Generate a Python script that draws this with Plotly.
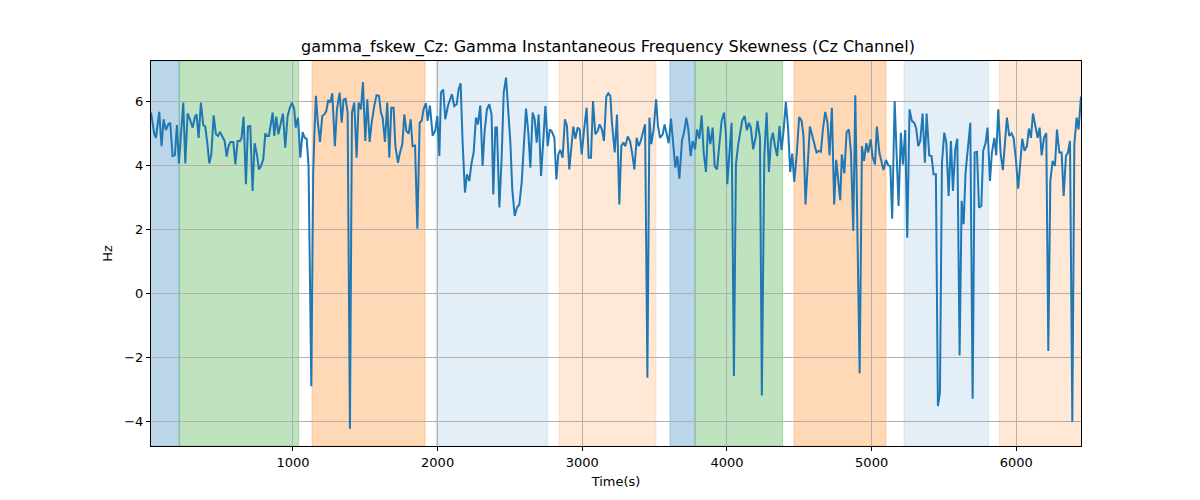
import plotly.graph_objects as go

# Gamma instantaneous frequency skewness, Cz channel
time_s = [19, 42, 53, 76, 92, 106, 122, 138, 152, 168, 184, 198, 212, 226, 242, 256, 272, 288, 307, 323,
          334, 348, 364, 380, 394, 408, 422, 436, 452, 468, 482, 496, 509, 528, 542, 555, 569, 588, 602, 618,
          634, 645, 659, 675, 689, 705, 721, 735, 751, 765, 779, 795, 809,
          820, 834, 860, 871, 885, 899, 913, 931, 947, 963, 979, 993, 1009, 1019, 1035, 1051, 1067, 1081, 1095, 1108,
          1127, 1140, 1148, 1159, 1171, 1187, 1203, 1217, 1231, 1244, 1258, 1272, 1290, 1304, 1323, 1337, 1350, 1364,
          1378, 1394, 1408, 1424, 1440, 1454, 1470, 1484, 1500, 1514, 1530, 1544, 1562, 1578, 1595, 1608,
          1620, 1636, 1652, 1666, 1680, 1696, 1708, 1726, 1740, 1756, 1770, 1784, 1800, 1814, 1827, 1844, 1860, 1876,
          1890, 1903, 1920, 1931, 1947, 1966, 1984, 1998, 2012, 2023, 2039, 2053, 2072, 2085, 2099, 2115, 2132, 2145,
          2159, 2173, 2189, 2203, 2219, 2235, 2249, 2265, 2279, 2295, 2311, 2325, 2341, 2357, 2373, 2385, 2399,
          2410, 2427, 2443, 2457, 2473, 2489, 2503, 2516, 2533, 2549, 2565, 2581, 2595, 2611, 2627, 2641, 2657, 2671,
          2685, 2698, 2715, 2731, 2745, 2761, 2775, 2788, 2807, 2821, 2834, 2848, 2864, 2880, 2894, 2910, 2924, 2938,
          2952, 2968, 2982, 2996, 3014, 3030, 3044, 3060, 3074, 3090, 3106, 3120, 3136, 3150, 3166, 3180, 3194,
          3205, 3224, 3240, 3256, 3270, 3284, 3298, 3314, 3330, 3344, 3360, 3376, 3390, 3404, 3417, 3434, 3450, 3464,
          3477, 3493, 3510, 3523, 3537, 3556, 3569, 3583, 3597, 3613, 3629, 3643, 3657, 3671, 3689, 3705, 3719, 3733,
          3749, 3763, 3779, 3793, 3809, 3825, 3839, 3855, 3869, 3885, 3901, 3915, 3931, 3947, 3963, 3980, 3993,
          4002, 4018, 4032, 4048, 4062, 4078, 4092, 4105, 4122, 4138, 4152, 4165, 4181, 4198, 4211, 4228, 4241, 4258,
          4274, 4290, 4304, 4317, 4331, 4347, 4363, 4377, 4391, 4407, 4423, 4437, 4451, 4465, 4483, 4499, 4516, 4529,
          4543, 4557, 4573, 4587, 4603, 4619, 4633, 4649, 4663, 4679, 4695, 4709, 4725, 4741, 4755, 4769, 4783,
          4794, 4811, 4827, 4843, 4857, 4873, 4887, 4917, 4933, 4947, 4963, 4976, 4993, 5006, 5023, 5036, 5053, 5069,
          5082, 5099, 5115, 5129, 5142, 5159, 5172, 5186, 5202, 5216, 5232, 5246, 5262, 5278, 5294, 5308, 5322, 5336,
          5352, 5368, 5380, 5398, 5414, 5428, 5444, 5458, 5472, 5486, 5502, 5516, 5532, 5548, 5562, 5578,
          5592, 5608, 5622, 5636, 5649, 5666, 5682, 5698, 5712, 5728, 5742, 5758, 5771, 5788, 5801, 5818, 5831, 5848,
          5861, 5875, 5891, 5907, 5921, 5935, 5951, 5967, 5981, 5997, 6013, 6027, 6041, 6057, 6073, 6087, 6101, 6115,
          6131, 6147, 6161, 6175, 6191, 6207, 6221, 6235, 6251, 6267, 6281, 6297, 6313, 6327, 6343, 6357, 6371, 6387,
          6401, 6417, 6430, 6447]

skew_hz = [5.64, 4.96, 4.85, 5.66, 4.59, 5.43, 5.09, 5.27, 5.32, 4.28, 4.31, 5.25, 4.05, 5.01, 5.95, 4.05, 5.61, 5.43, 5.17, 5.51,
           5.58, 4.85, 5.95, 5.25, 5.20, 4.70, 4.05, 4.33, 5.55, 4.96, 4.91, 5.03, 4.91, 4.75, 4.26, 4.59, 4.72, 4.72, 4.02, 4.75,
           4.75, 4.85, 5.51, 3.40, 5.20, 5.22, 3.19, 4.68, 4.33, 3.86, 3.97, 4.18, 4.99,
           4.91, 4.91, 5.64, 4.91, 5.51, 4.96, 5.27, 5.61, 4.54, 5.53, 5.79, 5.95, 5.74, 5.17, 5.48, 4.23, 5.03, 4.85, 4.82, 3.97,
           -2.91, 3.76, 4.91, 6.16, 5.38, 4.72, 5.53, 5.58, 5.69, 6.03, 5.95, 6.24, 4.59, 5.74, 6.26, 5.32, 6.05, 6.07,
           5.64, -4.24, 5.64, 5.95, 4.23, 5.95, 5.74, 6.59, 4.75, 6.05, 4.72, 5.32, 5.84, 6.18, 6.16, 5.64,
           5.48, 4.72, 5.95, 4.23, 5.79, 5.79, 4.59, 4.07, 4.39, 4.65, 5.58, 5.06, 4.98, 5.43, 4.59, 4.61, 2.01, 5.32,
           5.38, 5.74, 5.93, 5.38, 5.86, 4.91, 5.09, 5.53, 4.28, 6.26, 6.36, 5.43, 5.86, 6.00, 6.21, 5.84, 5.90, 6.36,
           6.55, 4.70, 3.14, 3.71, 3.50, 4.07, 4.39, 5.48, 5.27, 5.86, 3.97, 5.06, 5.74, 5.90, 5.58, 3.08, 5.17,
           5.17, 2.67, 4.28, 6.26, 6.73, 5.74, 4.70, 3.24, 2.41, 2.67, 2.77, 3.45, 4.59, 5.76, 5.01, 3.92, 5.64, 5.43,
           4.70, 5.58, 3.66, 4.91, 5.84, 4.59, 5.11, 5.06, 4.85, 3.55, 4.33, 4.47, 4.23, 5.43, 5.22, 3.86, 4.65, 5.20,
           4.82, 5.17, 5.11, 4.33, 5.17, 5.79, 4.23, 4.23, 6.00, 4.96, 5.06, 5.27, 5.11, 4.75, 6.14, 6.24, 6.16,
           5.32, 4.39, 5.58, 2.77, 4.59, 4.70, 4.59, 4.89, 4.75, 4.39, 3.86, 4.85, 4.59, 4.75, 5.01, 5.27, -2.65, 5.48,
           4.65, 5.11, 6.05, 5.22, 4.85, 4.96, 5.27, 4.91, 4.68, 5.45, 4.70, 3.92, 4.28, 3.57, 4.75, 5.06, 5.48, 5.11,
           4.28, 4.75, 4.49, 5.11, 4.82, 5.55, 4.39, 3.78, 5.20, 4.65, 5.17, 3.97, 3.86, 4.70, 5.38, 5.64, 4.96,
           3.40, 4.39, 5.32, -2.59, 4.02, 4.65, 5.11, 5.38, 5.53, 5.09, 5.32, 5.17, 4.49, 4.85, 5.38, 4.85, -3.20, 4.28,
           5.64, 3.78, 4.75, 5.01, 4.61, 4.28, 5.22, 4.47, 5.06, 5.97, 5.11, 3.78, 4.36, 3.47, 4.39, 5.50, 5.38, 4.91,
           2.77, 3.97, 5.20, 4.96, 4.65, 4.39, 4.44, 4.41, 5.11, 5.66, 5.32, 4.30, 5.79, 2.77, 4.16, 3.45, 2.90,
           4.33, 3.74, 5.03, 5.11, 4.39, 1.94, 6.18, -2.51, 4.59, 4.13, 4.68, 4.39, 4.80, 4.26, 4.02, 5.20, 4.39, 4.13,
           3.84, 4.16, 3.99, 3.97, 2.32, 6.00, 4.54, 2.72, 5.01, 4.02, 5.09, 1.73, 5.74, 5.38, 5.32, 5.14, 4.59, 4.75,
           5.61, 4.07, 5.61, 4.30, 4.28, 3.71, 3.71, -3.53, -3.11, 4.07, 5.01, 4.70, 3.03, 4.75, 3.19, 4.50,
           4.82, -1.95, 2.88, 2.15, 3.76, 4.70, 5.32, -3.30, 4.39, 4.41, 2.67, 2.72, 4.44, 4.70, 5.17, 3.50, 4.39, 4.85,
           4.30, 5.74, 4.39, 3.84, 4.65, 5.48, 4.91, 4.99, 4.85, 4.18, 3.26, 4.18, 4.82, 4.44, 4.59, 5.14, 4.85, 5.61,
           5.22, 4.85, 5.17, 4.30, 4.85, 4.99, -1.81, 3.50, 4.13, 3.97, 5.11, 4.39, 4.39, 3.03, 4.28, 4.39, 4.75, -4.03,
           4.65, 5.48, 5.11, 6.14]

# shaded stages: start, end, colour
span_start = [0, 214, 1132, 1989, 2839, 3606, 3779, 4463, 5224, 5883]
span_end = [214, 1040, 1913, 2761, 3509, 3779, 4385, 5099, 5809, 6460]
span_color = ['rgba(31,119,180,0.3)', 'rgba(44,160,44,0.3)', 'rgba(255,127,14,0.3)',
              'rgba(31,119,180,0.12)', 'rgba(255,127,14,0.17)',
              'rgba(31,119,180,0.3)', 'rgba(44,160,44,0.3)', 'rgba(255,127,14,0.3)',
              'rgba(31,119,180,0.12)', 'rgba(255,127,14,0.17)']

x_ticks = [1000, 2000, 3000, 4000, 5000, 6000]
y_ticks = [-4, -2, 0, 2, 4, 6]

fig = go.Figure()
fig.add_trace(go.Scatter(x=time_s, y=skew_hz, mode='lines',
                         line=dict(color='#1f77b4', width=2),
                         showlegend=False))

for x0, x1, c in zip(span_start, span_end, span_color):
    fig.add_shape(type='rect', xref='x', yref='paper', x0=x0, x1=x1, y0=0, y1=1,
                  fillcolor=c, line=dict(color=c, width=1), layer='below')

axis_common = dict(showline=True, linecolor='black', linewidth=1, mirror=True,
                   ticks='outside', ticklen=4, tickcolor='black',
                   showgrid=True, gridcolor='#b0b0b0', gridwidth=1, zeroline=False,
                   tickfont=dict(family='DejaVu Sans', size=13, color='black'))

# page body has an 8px margin, so shift the plot area up/left a little
fig.update_layout(
    width=1200, height=500,
    paper_bgcolor='white', plot_bgcolor='white',
    margin=dict(l=143, r=127, t=53, b=62),
    title=dict(text='gamma_fskew_Cz: Gamma Instantaneous Frequency Skewness (Cz Channel)',
               x=0.5, xanchor='center', y=0.924, yanchor='middle',
               font=dict(family='DejaVu Sans', size=16, color='black')),
    xaxis=dict(range=[19, 6447], tickvals=x_ticks,
               title=dict(text='Time(s)', standoff=8,
                          font=dict(family='DejaVu Sans', size=13, color='black')),
               **axis_common),
    yaxis=dict(range=[-4.78, 7.25], tickvals=y_ticks,
               title=dict(text='Hz', standoff=8,
                          font=dict(family='DejaVu Sans', size=13, color='black')),
               **axis_common),
)

fig.write_html('out.html')
